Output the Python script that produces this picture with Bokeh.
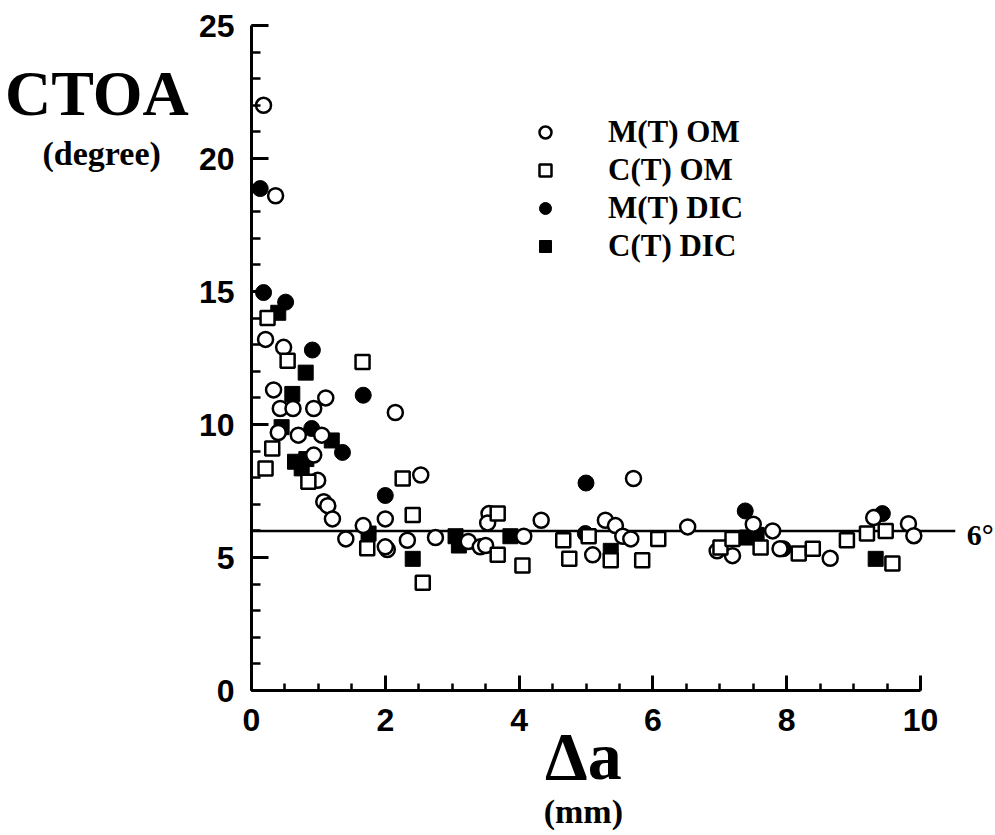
from bokeh.plotting import figure
from bokeh.models import Range1d, FixedTicker, Label, Legend, LegendItem
from bokeh.embed import file_html
from bokeh.resources import INLINE

# ---- data (crack extension in mm, CTOA in degrees) ----
mt_om_x = [0.18, 0.36, 0.21, 0.48, 0.33, 0.43, 0.62, 0.93, 1.11, 2.15, 0.40, 1.05, 0.93, 2.53,
           0.99, 1.08, 1.14, 1.21, 1.41, 1.67, 2.00, 2.03, 2.33, 2.75, 3.24, 3.42, 3.55, 3.53,
           3.50, 4.07, 4.33, 5.71, 5.10, 5.29, 5.44, 5.55, 5.67, 6.52, 7.50, 7.79, 6.96, 7.19,
           7.90, 8.65, 9.30, 9.82, 9.90, 2.00, 0.70]
mt_om_y = [22.0, 18.6, 13.2, 12.9, 11.3, 10.6, 10.6, 10.6, 11.0, 10.45, 9.7, 9.6, 8.85, 8.1,
           7.9, 7.1, 6.95, 6.45, 5.7, 6.2, 6.45, 5.3, 5.65, 5.75, 5.6, 5.4, 6.65, 6.3,
           5.45, 5.8, 6.4, 7.97, 5.1, 6.4, 6.2, 5.8, 5.7, 6.15, 6.25, 6.0, 5.25, 5.07,
           5.33, 4.97, 6.5, 6.27, 5.82, 5.4, 9.6]

ct_om_x = [0.24, 0.54, 1.66, 0.31, 0.21, 0.85, 2.26, 2.41, 1.73, 2.56, 3.68, 3.68, 4.05, 4.66,
           4.75, 5.04, 5.37, 5.84, 6.08, 7.01, 7.19, 7.61, 8.18, 8.39, 8.90, 9.20, 9.48, 9.58]
ct_om_y = [14.0, 12.4, 12.35, 9.1, 8.35, 7.85, 7.97, 6.6, 5.35, 4.05, 6.65, 5.1, 4.7, 5.65,
           4.95, 5.8, 4.9, 4.9, 5.7, 5.38, 5.7, 5.38, 5.15, 5.33, 5.65, 5.9, 6.0, 4.77]

mt_dic_x = [0.13, 0.18, 0.51, 0.91, 1.67, 0.90, 1.36, 2.00, 5.00, 4.99, 7.38, 7.95, 9.43]
mt_dic_y = [18.87, 14.96, 14.6, 12.8, 11.1, 9.85, 8.95, 7.33, 7.8, 5.9, 6.75, 5.33, 6.65]

ct_dic_x = [0.40, 0.81, 0.61, 0.45, 0.65, 0.75, 0.82, 1.20, 1.75, 2.41, 3.05, 3.10, 3.87,
            5.37, 7.41, 7.55, 9.33]
ct_dic_y = [14.2, 11.95, 11.15, 9.9, 8.6, 8.35, 8.7, 9.4, 5.9, 4.95, 5.8, 5.45, 5.8,
            5.25, 5.75, 5.85, 4.95]

ref_ctoa = 6.0
ref_label = "6\u00b0"

x_ticks = [0, 2, 4, 6, 8, 10]
x_minor = [i * 0.5 for i in range(21)]
y_ticks = [0, 5, 10, 15, 20, 25]
y_minor = list(range(26))

W, H = 994, 834
SX, SY = 66.9, 26.6          # px per data unit
X0_PX, Y0_PX = 251, 690      # page position of the data origin
xmin = -X0_PX / SX
xmax = xmin + W / SX
ymin = -(H - Y0_PX) / SY
ymax = ymin + H / SY

# ---- figure ----
p = figure(width=W, height=H, output_backend="svg", toolbar_location=None,
           x_range=Range1d(xmin, xmax), y_range=Range1d(ymin, ymax),
           min_border=0, min_border_left=0, min_border_right=0,
           min_border_top=0, min_border_bottom=0)
p.xgrid.visible = False
p.ygrid.visible = False
p.outline_line_color = None
p.background_fill_color = "white"
p.border_fill_color = "white"

for ax, tk, mn, mj_len, mn_len, bnd, so in ((p.xaxis, x_ticks, x_minor, 15, 7, (0, 10), 18),
                                            (p.yaxis, y_ticks, y_minor, 17, 9, (0, 25), 17)):
    ax.ticker = FixedTicker(ticks=tk, minor_ticks=mn)
    ax.fixed_location = 0
    ax.bounds = bnd
    ax.major_tick_in = mj_len
    ax.major_tick_out = 0
    ax.minor_tick_in = mn_len
    ax.minor_tick_out = 0
    ax.axis_line_width = 3
    ax.major_tick_line_width = 3
    ax.minor_tick_line_width = 2.5
    ax.axis_line_color = "black"
    ax.major_tick_line_color = "black"
    ax.minor_tick_line_color = "black"
    ax.major_label_text_font = "Liberation Sans"
    ax.major_label_text_font_style = "bold"
    ax.major_label_text_font_size = "32px"
    ax.major_label_text_color = "black"
    ax.major_label_standoff = so

# reference line
p.line([0, 10.52], [ref_ctoa, ref_ctoa], line_color="black", line_width=2.5)

r_mt_dic = p.scatter(mt_dic_x, mt_dic_y, marker="circle", size=16,
                     fill_color="black", line_color="black", line_width=1)
r_ct_dic = p.scatter(ct_dic_x, ct_dic_y, marker="square", size=15,
                     fill_color="black", line_color="black", line_width=1)
r_mt_om = p.scatter(mt_om_x, mt_om_y, marker="circle", size=15,
                    fill_color="white", line_color="black", line_width=2.5)
r_ct_om = p.scatter(ct_om_x, ct_om_y, marker="square", size=14,
                    fill_color="white", line_color="black", line_width=2.5)

legend = Legend(items=[
    LegendItem(label="M(T) OM", renderers=[r_mt_om]),
    LegendItem(label="C(T) OM", renderers=[r_ct_om]),
    LegendItem(label="M(T) DIC", renderers=[r_mt_dic]),
    LegendItem(label="C(T) DIC", renderers=[r_ct_dic]),
], location=(530, 570), border_line_color=None, background_fill_alpha=0,
    label_text_font="Liberation Serif", label_text_font_style="bold",
    label_text_font_size="31px", label_text_color="black",
    glyph_width=30, glyph_height=30,
    label_height=36, label_standoff=48, spacing=2, padding=0, margin=0)
p.add_layout(legend)

def lab(x, y, text, size, align="center"):
    p.add_layout(Label(x=x, y=y, text=text, text_align=align, text_baseline="alphabetic",
                       text_font="Liberation Serif", text_font_style="bold",
                       text_font_size=size, text_color="black"))

lab(-2.31, 22.46, "CTOA", "64px")
lab(-2.24, 20.18, "(degree)", "34px")
lab(4.96, -2.48, "\u0394a", "68px")
lab(4.96, -4.55, "(mm)", "34px")
lab(10.69, ref_ctoa - 0.12, ref_label, "30px", align="left")

open("out.html", "w").write(file_html(p, INLINE))
